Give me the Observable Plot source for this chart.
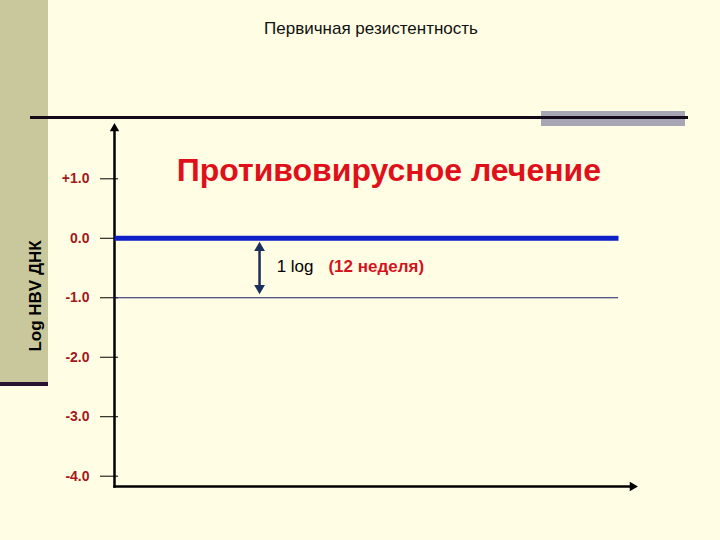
<!DOCTYPE html>
<html>
<head>
<meta charset="utf-8">
<script src="https://cdn.jsdelivr.net/npm/d3@7"></script>
<script src="https://cdn.jsdelivr.net/npm/@observablehq/plot@0.6"></script>
<style>
  html, body { margin: 0; padding: 0; background: #fffee4; }
  #slide { position: relative; width: 720px; height: 540px; background: #fffee4; overflow: hidden; font-family: "Liberation Sans", Arial, sans-serif; }
  #stripe { position: absolute; left: 0; top: 0; width: 48px; height: 382px; background: #c9c89c; }
  #stripeLine { position: absolute; left: 0; top: 382px; width: 48px; height: 4px; background: #2a1232; }
  #topLine { position: absolute; left: 30px; top: 116px; width: 658px; height: 3px; background: #140a1a; }
  #topBox { position: absolute; left: 541px; top: 111px; width: 144px; height: 15px; background: #a8a6b4; }
  #topBoxLine { position: absolute; left: 541px; top: 116px; width: 147px; height: 3px; background: #140a1a; }
  #title { position: absolute; left: 0; width: 742px; top: 19px; text-align: center; font-family: "Liberation Sans Narrow", "Arial Narrow", "Liberation Sans", sans-serif; font-size: 17px; color: #111; }
  #chart { position: absolute; left: 0; top: 0; }
</style>
</head>
<body>
<div id="slide">
  <div id="stripe"></div>
  <div id="stripeLine"></div>
  <div id="topLine"></div>
  <div id="topBox"></div>
  <div id="topBoxLine"></div>
  <div id="title">Первичная резистентность</div>
  <div id="chart"></div>
</div>
<script>
// ---- data ----
const yTicks = [1, 0, -1, -2, -3, -4];
const yTickLabels = ["+1.0", "0.0", "-1.0", "-2.0", "-3.0", "-4.0"];
const yLabel = "Log HBV ДНК";
const headline = "Противовирусное лечение";

// HBV DNA level under treatment (log change), x in % of timeline
const treatX = [0, 64, 97.3];
const treatY = [0, 0, 0];

// reference line at -1 log
const refLevel = -1;
const refStart = 0;
const refEnd = 97.3;

// 1 log annotation arrow
const arrowX = 28;
const arrowTop = -0.13;
const arrowBottom = -0.87;
const noteLog = "1 log";
const noteWeek = "(12 неделя)";
const noteX = [31.3, 41.3];
const noteY = -0.47;
const headlineX = 12;
const headlineY = 1.14;
const yLabelX = -15.3;
const yLabelY = -0.97;

const treatData = treatX.map((x, i) => ({x, y: treatY[i]}));

const chart = Plot.plot({
  width: 720,
  height: 540,
  marginLeft: 114,
  marginRight: 88,
  marginTop: 128,
  marginBottom: 54,
  style: {background: "none", overflow: "visible", fontFamily: "'Liberation Sans', Arial, sans-serif"},
  x: {domain: [0, 100], axis: null},
  y: {domain: [1, -4], range: [178.3, 475.7], axis: null},
  marks: [
    // axes lines
    Plot.frame({anchor: "left", stroke: "#000", strokeWidth: 2.5}),
    Plot.frame({anchor: "bottom", stroke: "#000", strokeWidth: 2.5}),
    Plot.dot({length: 1}, {frameAnchor: "top-left", symbol: "triangle", r: 3.5, fill: "#000", stroke: "none"}),
    Plot.dot({length: 1}, {frameAnchor: "bottom-right", symbol: "triangle", r: 3.5, fill: "#000", stroke: "none", rotate: 90}),
    Plot.axisY({
      ticks: yTicks,
      tickFormat: d => yTickLabels[yTicks.indexOf(d)],
      label: null,
      tickSize: 18,
      tickPadding: 11,
      dx: 4,
      stroke: "#000",
      fill: "#a5171b",
      fontSize: 14,
      fontWeight: "bold"
    }),
    Plot.text([yLabel], {x: () => yLabelX, y: () => yLabelY, rotate: -90, fontSize: 17, fontWeight: "bold", fill: "#000"}),
    // reference line at -1
    Plot.ruleY([refLevel], {x1: refStart, x2: refEnd, stroke: "#1c1c6e", strokeWidth: 1}),
    // treatment line
    Plot.line(treatData, {x: "x", y: "y", stroke: "#0d1fc6", strokeWidth: 5, strokeLinecap: "butt"}),
    // 1 log double arrow
    Plot.ruleX([arrowX], {y1: arrowTop, y2: arrowBottom, stroke: "#1a2f5e", strokeWidth: 2.5}),
    Plot.dot([arrowX], {x: d => d, y: () => arrowTop, symbol: "triangle", r: 4, fill: "#1a2f5e", stroke: "none", dy: 2}),
    Plot.dot([arrowX], {x: d => d, y: () => arrowBottom, symbol: "triangle", r: 4, fill: "#1a2f5e", stroke: "none", rotate: 180, dy: -2}),
    Plot.text([noteLog], {x: () => noteX[0], y: () => noteY, textAnchor: "start", fontSize: 17, fill: "#000"}),
    Plot.text([noteWeek], {x: () => noteX[1], y: () => noteY, textAnchor: "start", fontSize: 17, fontWeight: "bold", fill: "#d4121e"}),
    // headline
    Plot.text([headline], {x: () => headlineX, y: () => headlineY, textAnchor: "start", fontSize: 32, fontWeight: "bold", fill: "#e0101a"})
  ]
});
document.getElementById("chart").appendChild(chart);
</script>
</body>
</html>
